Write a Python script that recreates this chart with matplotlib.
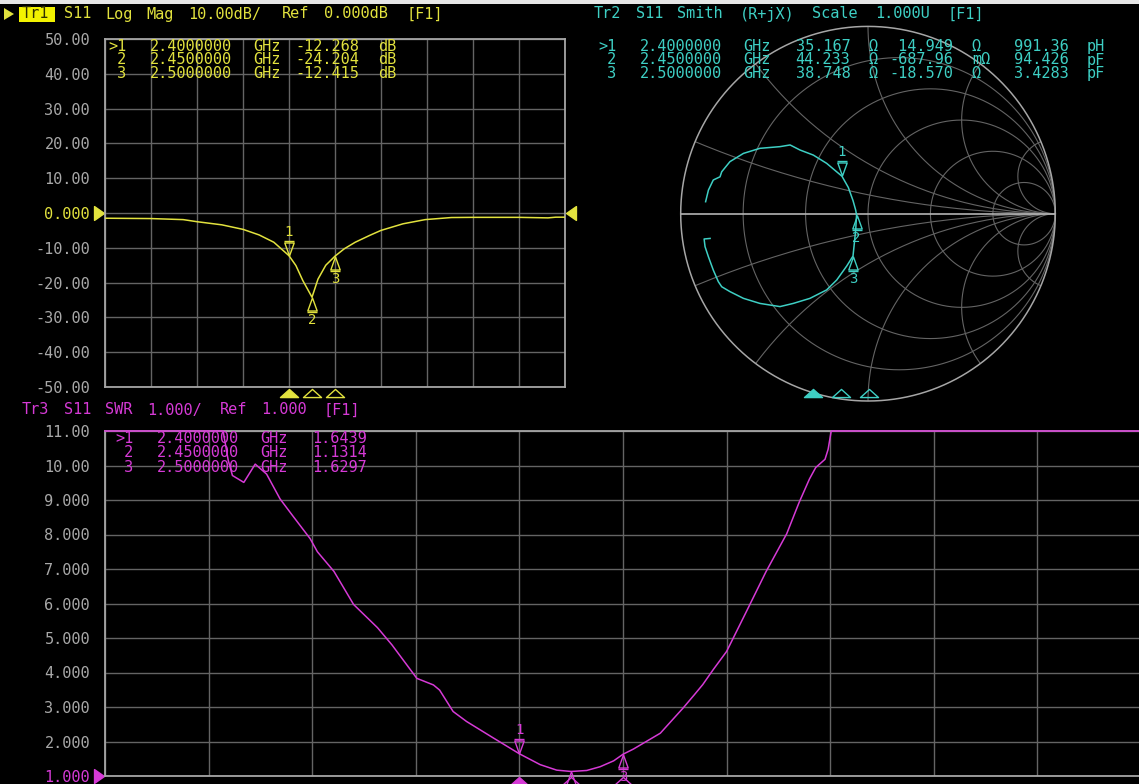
import numpy as np
import matplotlib
matplotlib.use('Agg')
import matplotlib.pyplot as plt
from matplotlib.transforms import ScaledTranslation, blended_transform_factory
from matplotlib.path import Path
from matplotlib.patches import Circle, Rectangle, Polygon

# ---------------- data ----------------
F_START, F_STOP = 2.0, 3.0

# Tr1 : S11 log magnitude (dB)
lm_freq = [2.000, 2.100, 2.170, 2.200, 2.254, 2.300, 2.335, 2.367, 2.400, 2.415,
           2.430, 2.450, 2.463, 2.480, 2.500, 2.520, 2.544, 2.576, 2.600, 2.648,
           2.696, 2.753, 2.800, 2.900, 2.963, 2.980, 3.000]
lm_db = [-1.5, -1.6, -1.9, -2.5, -3.4, -4.7, -6.3, -8.4, -12.27, -15.1,
         -19.4, -24.2, -19.0, -15.0, -12.4, -10.3, -8.4, -6.4, -5.0, -3.1,
         -1.9, -1.3, -1.25, -1.25, -1.4, -1.2, -1.2]
lm_ticks = [50, 40, 30, 20, 10, 0, -10, -20, -30, -40, -50]
lm_ticklabels = ['50.00', '40.00', '30.00', '20.00', '10.00', '0.000',
                 '-10.00', '-20.00', '-30.00', '-40.00', '-50.00']

# Tr3 : SWR
swr_freq = [2.000, 2.114, 2.119, 2.123, 2.134, 2.145, 2.156, 2.169, 2.181, 2.198,
            2.205, 2.221, 2.240, 2.263, 2.277, 2.301, 2.317, 2.323, 2.336, 2.349,
            2.375, 2.400, 2.420, 2.436, 2.450, 2.465, 2.478, 2.491, 2.500, 2.510,
            2.536, 2.558, 2.569, 2.577, 2.587, 2.600, 2.619, 2.638, 2.658, 2.670,
            2.680, 2.686, 2.695, 2.698, 2.701, 3.000]
swr_val = [11.0, 11.0, 10.14, 9.71, 9.51, 10.04, 9.75, 9.03, 8.55, 7.88,
           7.50, 6.93, 5.97, 5.30, 4.80, 3.83, 3.64, 3.49, 2.87, 2.58,
           2.10, 1.644, 1.33, 1.17, 1.131, 1.16, 1.27, 1.44, 1.630, 1.78,
           2.24, 2.97, 3.36, 3.65, 4.08, 4.61, 5.76, 6.92, 8.02, 8.93,
           9.61, 9.94, 10.18, 10.47, 11.0, 11.0]
swr_ticks = [11, 10, 9, 8, 7, 6, 5, 4, 3, 2, 1]
swr_ticklabels = ['11.00', '10.00', '9.000', '8.000', '7.000', '6.000',
                  '5.000', '4.000', '3.000', '2.000', '1.000']

# Tr2 : Smith chart trace (reflection coefficient)
gam_re = [-0.867, -0.852, -0.826, -0.790, -0.781, -0.737, -0.665, -0.577, -0.470, -0.416,
          -0.363, -0.292, -0.221, -0.139, -0.105, -0.080, -0.066, -0.061, -0.066, -0.080,
          -0.114, -0.167, -0.221, -0.310, -0.399, -0.470, -0.577, -0.665, -0.737, -0.781,
          -0.799, -0.826, -0.852, -0.870, -0.875, -0.843]
gam_im = [0.064, 0.126, 0.180, 0.197, 0.224, 0.278, 0.322, 0.349, 0.358, 0.367,
          0.340, 0.313, 0.269, 0.200, 0.140, 0.070, 0.020, -0.007, -0.090, -0.226,
          -0.280, -0.354, -0.407, -0.452, -0.479, -0.496, -0.479, -0.452, -0.416, -0.390,
          -0.363, -0.301, -0.230, -0.176, -0.135, -0.132]
smith_r_grid = [0.2, 0.5, 1.0, 2.0, 5.0]
smith_x_grid = [0.2, 0.5, 1.0, 2.0, 5.0]

# markers
mk_ids = ['>1', '2', '3']
mk_freq = [2.40, 2.45, 2.50]
mk_lm = [-12.268, -24.204, -12.415]
mk_swr = [1.6439, 1.1314, 1.6297]
mk_R = [35.167, 44.233, 38.748]
mk_X = [14.949, -0.68796, -18.570]
mk_LC = ['991.36 pH', '94.426 pF', '3.4283 pF']
Z0 = 50.0

# ---------------- style ----------------
W, H = 1139, 784
plt.rcParams['font.family'] = ['DejaVu Sans Mono', 'DejaVu Sans']
fig = plt.figure(figsize=(W / 100, H / 100), dpi=100, facecolor='black')

YEL = '#e2e23e'
CYN = '#3ecfc4'
MAG = '#d63ad6'
GRID = '#646464'
FRAME = '#a6a6a6'
LBL = '#a8a8a8'
FS = 11
PITCH = 10.4


def fx(x):
    return x / W


def fy(y):
    return 1 - y / H


def mono(x, y, s, color, pitch=PITCH, size=FS, **kw):
    i = 0
    for word in s.split(' '):
        if word:
            fig.text(fx(x + i * pitch), fy(y), word, color=color, fontsize=size,
                     ha='left', va='center', **kw)
        i += len(word) + 1


def mono_block(x, y_mid, rows, color, dy, pitch=PITCH, size=FS):
    """Monospace table: columns placed on a fixed character pitch, rows as multi-line text."""
    n = max(len(r) for r in rows)
    rows = [r.ljust(n) for r in rows]
    used = [any(r[k] != ' ' for r in rows) for k in range(n)]
    ls = dy / (0.95 * size * 100 / 72)
    k = 0
    while k < n:
        if not used[k]:
            k += 1
            continue
        a = k
        while k < n and used[k]:
            k += 1
        block = '\n'.join(r[a:k] for r in rows)
        fig.text(fx(x + a * pitch), fy(y_mid), block, color=color, fontsize=size,
                 ha='left', va='center', linespacing=ls, multialignment='left')


def off(base, dx=0, dy=0):
    return base + ScaledTranslation(dx / 100, dy / 100, fig.dpi_scale_trans)


def tri(pts):
    return Path(pts + [pts[0]], [Path.MOVETO, Path.LINETO, Path.LINETO, Path.CLOSEPOLY])


TRI_DOWN = tri([(-0.36, 0.5), (0.36, 0.5), (0, -0.5)])
TRI_UP = tri([(-0.36, -0.5), (0.36, -0.5), (0, 0.5)])
TRI_FLAT = tri([(-1, -0.45), (1, -0.45), (0, 0.45)])
TRI_RIGHT = tri([(-0.5, -0.7), (0.5, 0), (-0.5, 0.7)])
TRI_LEFT = tri([(0.5, -0.7), (-0.5, 0), (0.5, 0.7)])


def marker_sym(ax, x, y, label, color, active, show_label=True):
    base = ax.transData
    s = 1 if active else -1
    ax.plot([x], [y], marker=TRI_DOWN if active else TRI_UP, ms=9.4, mfc='none', mec=color,
            mew=1.0, transform=off(base, 0, 7 * s), clip_on=False, zorder=5)
    ax.plot([x], [y], marker='_', ms=7, mec=color, mew=1.0,
            transform=off(base, 0, 15 * s), clip_on=False, zorder=5)
    if show_label:
        ax.text(x, y, label, color=color, fontsize=10, ha='center', va='center',
                transform=off(base, 0, 24 if active else -23), clip_on=False, zorder=5)


def freq_indicators(ax, color, dy):
    tr = blended_transform_factory(ax.transData, ax.transAxes)
    for i, f in enumerate(mk_freq):
        ax.plot([f], [0], marker=TRI_FLAT, ms=13, mfc=color if i == 0 else 'none',
                mec=color, mew=1.0, transform=off(tr, 0, dy), clip_on=False, zorder=5)


def rect_axes(l, t, r, b):
    ax = fig.add_axes([fx(l), fy(b), (r - l) / W, (b - t) / H])
    ax.set_facecolor('black')
    for s in ax.spines.values():
        s.set_color(FRAME)
        s.set_linewidth(1.3)
    ax.grid(True, color=GRID, lw=1.0)
    ax.tick_params(axis='x', length=0, labelbottom=False)
    ax.tick_params(axis='y', length=0, pad=10.8, labelcolor=LBL, labelsize=FS)
    return ax


def pid(i):
    return mk_ids[i] if mk_ids[i].startswith('>') else ' ' + mk_ids[i]


# top white strip
fig.add_artist(Rectangle((0, fy(4)), 1, 4 / H, transform=fig.transFigure,
                         facecolor='#e6e6e6', edgecolor='none'))

# ---------------- Tr1 : log mag ----------------
ax1 = rect_axes(105, 39, 565, 387)
ax1.set_xlim(F_START, F_STOP)
ax1.set_ylim(-50, 50)
ax1.set_xticks(np.linspace(F_START, F_STOP, 11))
ax1.set_yticks(lm_ticks)
ax1.set_yticklabels(lm_ticklabels)
for lab in ax1.get_yticklabels():
    if lab.get_text() == '0.000':
        lab.set_color(YEL)
ax1.plot(lm_freq, lm_db, color=YEL, lw=1.1, zorder=4)
for i, f in enumerate(mk_freq):
    marker_sym(ax1, f, mk_lm[i], mk_ids[i].strip('>'), YEL, i == 0)
freq_indicators(ax1, YEL, -6)
trl = blended_transform_factory(ax1.transAxes, ax1.transData)
ax1.plot([0], [0], marker=TRI_RIGHT, ms=10, mfc=YEL, mec=YEL, transform=off(trl, -6, 0), clip_on=False)
ax1.plot([1], [0], marker=TRI_LEFT, ms=10, mfc=YEL, mec=YEL, transform=off(trl, 6, 0), clip_on=False)

# header Tr1
fig.add_artist(Polygon([[fx(4), fy(8)], [fx(14), fy(14)], [fx(4), fy(20)]],
                       closed=True, transform=fig.transFigure, facecolor=YEL, edgecolor='none'))
fig.add_artist(Rectangle((fx(19), fy(22)), 36 / W, 15 / H, transform=fig.transFigure,
                         facecolor='#f2f200', edgecolor='none'))
mono(22, 14, 'Tr1', '#303000')
mono(22, 14, '    S11 Log Mag 10.00dB/ Ref 0.000dB [F1]', YEL)
mono_block(108, 60, [f"{pid(i)}  {f:.7f} GHz {mk_lm[i]:7.3f} dB" for i, f in enumerate(mk_freq)],
           YEL, 13)

# ---------------- Tr2 : Smith ----------------
CX, CY, RAD = 868, 213.7, 187.3
axS = fig.add_axes([fx(CX - RAD), fy(CY + RAD), 2 * RAD / W, 2 * RAD / H])
axS.set_xlim(-1, 1)
axS.set_ylim(-1, 1)
axS.axis('off')
clip = Circle((0, 0), 1.0, transform=axS.transData)
t = np.linspace(0, 2 * np.pi, 721)
for r in smith_r_grid:
    c, rr = r / (1 + r), 1 / (1 + r)
    axS.plot(c + rr * np.cos(t), rr * np.sin(t), color=GRID, lw=0.8)
for xv in smith_x_grid:
    for sgn in (1, -1):
        ln, = axS.plot(1 + (1 / xv) * np.cos(t), sgn / xv + (1 / xv) * np.sin(t), color=GRID, lw=0.8)
        ln.set_clip_path(clip)
axS.plot(np.cos(t), np.sin(t), color=FRAME, lw=1.1, clip_on=False)
axS.plot([-1, 1], [0, 0], color='#b4b4b4', lw=1.2)
axS.plot(gam_re, gam_im, color=CYN, lw=1.1, zorder=4)
for i in range(3):
    z = complex(mk_R[i], mk_X[i]) / Z0
    g = (z - 1) / (z + 1)
    marker_sym(axS, g.real, g.imag, mk_ids[i].strip('>'), CYN, i == 0)

axSf = fig.add_axes([fx(589), fy(393), 560 / W, 1 / H])
axSf.set_xlim(F_START, F_STOP)
axSf.axis('off')
freq_indicators(axSf, CYN, 0)

mono(594, 14, 'Tr2 S11 Smith (R+jX) Scale 1.000U [F1]', CYN)
smith_rows = []
for i, f in enumerate(mk_freq):
    X = mk_X[i]
    if abs(X) < 1:
        num, unit = f"{X * 1000:.2f}", 'mΩ'
    else:
        num, unit = f"{X:.3f}", 'Ω'
    smith_rows.append(f"{pid(i)}  {f:.7f} GHz  {mk_R[i]:.3f} Ω {num:>7} {unit:<2}  {mk_LC[i]}")
mono_block(598, 60, smith_rows, CYN, 13)

# ---------------- Tr3 : SWR ----------------
ax3 = rect_axes(105, 431, 1141, 776)
ax3.set_xlim(F_START, F_STOP)
ax3.set_ylim(1, 11)
ax3.set_xticks(np.linspace(F_START, F_STOP, 11))
ax3.set_yticks(swr_ticks)
ax3.set_yticklabels(swr_ticklabels)
for lab in ax3.get_yticklabels():
    if lab.get_text() == '1.000':
        lab.set_color(MAG)
ax3.plot(swr_freq, swr_val, color=MAG, lw=1.1, zorder=4, clip_on=False)
for i, f in enumerate(mk_freq):
    # marker 2's number lies below the bottom edge of the screen in the reference
    marker_sym(ax3, f, mk_swr[i], mk_ids[i].strip('>'), MAG, i == 0, show_label=(i != 1))
freq_indicators(ax3, MAG, -5)
trl3 = blended_transform_factory(ax3.transAxes, ax3.transData)
ax3.plot([0], [1], marker=TRI_RIGHT, ms=10, mfc=MAG, mec=MAG, transform=off(trl3, -6, 0), clip_on=False)

mono(22, 410, 'Tr3 S11 SWR 1.000/ Ref 1.000 [F1]', MAG)
mono_block(115, 453, [f"{pid(i)}  {f:.7f} GHz  {mk_swr[i]:.4f}" for i, f in enumerate(mk_freq)],
           MAG, 13.5)

fig.savefig('out.png', dpi=100, facecolor='black')
